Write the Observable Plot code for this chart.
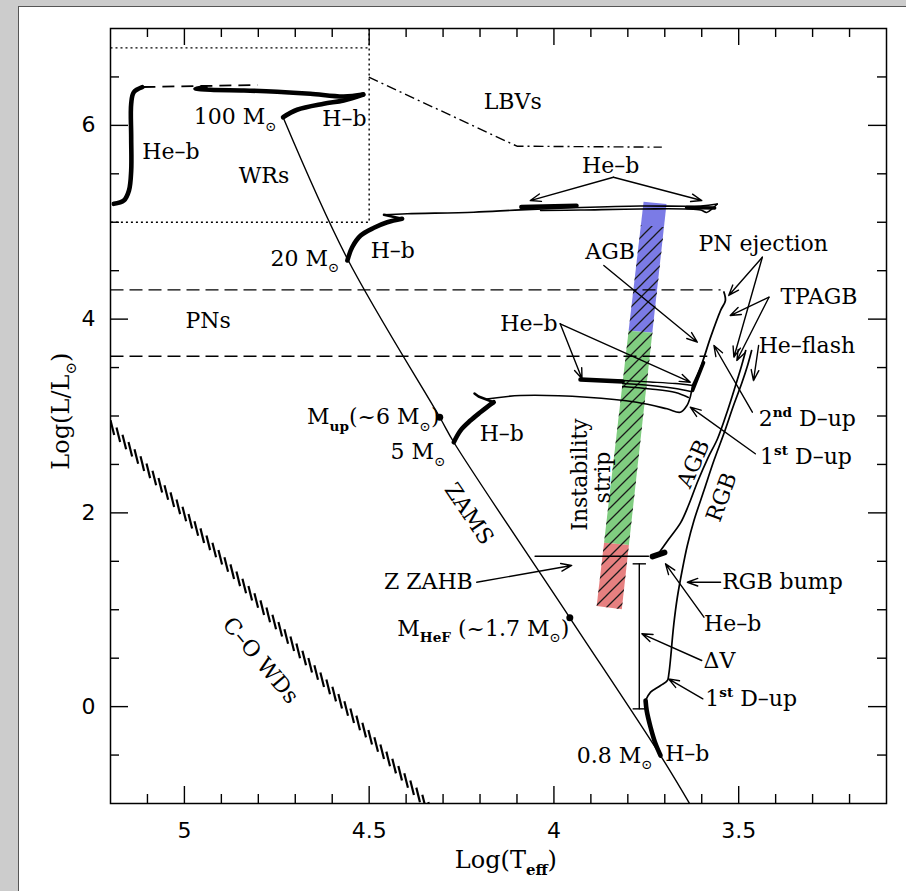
<!DOCTYPE html>
<html><head><meta charset="utf-8">
<script src="https://cdn.jsdelivr.net/npm/d3@7"></script>
<script src="https://cdn.jsdelivr.net/npm/@observablehq/plot@0.6"></script>
<style>
html,body{margin:0;padding:0;background:#cccccc;width:906px;height:891px;overflow:hidden;}
#page{position:absolute;left:18px;top:6px;width:887px;height:884px;background:#fff;border-left:1px solid #555;border-top:1px solid #555;}
</style></head><body><div id="page"></div><script>
// ---- axis ticks ----
const xMajor = [5, 4.5, 4, 3.5];
const xMinor = [5.1, 4.9, 4.8, 4.7, 4.6, 4.4, 4.3, 4.2, 4.1, 3.9, 3.8, 3.7, 3.6, 3.4, 3.3, 3.2];
const yMajor = [0, 2, 4, 6];
const yMinor = [-0.5, 0.5, 1, 1.5, 2.5, 3, 3.5, 4.5, 5, 5.5, 6.5];

// ---- curves: [logTeff, logL] ----
const zams = [[4.733,6.084],[4.559,4.623],[4.309,2.987],[4.271,2.729],[3.957,0.917],[3.7115,-0.505],[3.633,-1.0]];
const zamsDots = [[4.309,2.987],[3.957,0.917]];
const wr100HeB = [[5.114,6.394],[5.137,6.342],[5.144,6.223],[5.144,5.878],[5.144,5.534],[5.150,5.328],[5.164,5.224],[5.191,5.190]];
const m100Hb = [[4.733,6.084],[4.695,6.161],[4.623,6.223],[4.569,6.257],[4.516,6.319]];
const m100Back = [[4.516,6.319],[4.569,6.298],[4.659,6.326],[4.749,6.347],[4.839,6.360],[4.929,6.367],[4.970,6.381],[4.943,6.391]];
const m100Dash = [[5.111,6.396],[4.802,6.417]];
const m20Hb = [[4.559,4.605],[4.546,4.742],[4.523,4.863],[4.487,4.943],[4.451,5.000],[4.411,5.036]];
const m20Hook = [[4.411,5.036],[4.460,5.077]];
const m20Out = [[4.460,5.077],[4.397,5.087],[4.217,5.104],[4.090,5.128],[3.928,5.152],[3.766,5.168],[3.603,5.168],[3.558,5.188]];
const m20Ret = [[3.558,5.188],[3.571,5.142],[3.587,5.101],[3.603,5.126],[3.766,5.137],[3.928,5.126],[4.036,5.121]];
const m20HeB1 = [[4.088,5.157],[3.939,5.170]];
const m20HeB2 = [[3.641,5.152],[3.565,5.147]];
const m5Hb = [[4.271,2.729],[4.253,2.850],[4.226,2.953],[4.199,3.039],[4.176,3.108],[4.163,3.142]];
const m5Hook = [[4.163,3.142],[4.204,3.201],[4.215,3.232]];
const m5Cross = [[4.182,3.175],[4.091,3.211],[3.911,3.194],[3.776,3.142],[3.694,3.074],[3.658,3.039],[3.640,3.108],[3.630,3.211],[3.625,3.315]];
const m5Agb = [[3.625,3.315],[3.603,3.504],[3.576,3.813],[3.549,4.089],[3.536,4.192],[3.540,4.280]];
const m5AgbThick = [[3.625,3.263],[3.595,3.552]];
const m5Loop1 = [[3.928,3.382],[3.814,3.366],[3.739,3.351],[3.671,3.335],[3.625,3.315]];
const m5Loop2 = [[3.814,3.335],[3.739,3.315],[3.671,3.284],[3.630,3.253]];
const m5Loop3 = [[3.814,3.304],[3.739,3.279],[3.671,3.243],[3.636,3.191]];
const m5HeB = [[3.928,3.376],[3.814,3.356]];
const m08Hb = [[3.7115,-0.505],[3.725,-0.384],[3.7385,-0.213],[3.749,-0.040],[3.752,0.063]];
const rgb = [[3.752,0.063],[3.7385,0.149],[3.7115,0.218],[3.693,0.269],[3.689,0.339],[3.684,0.510],[3.680,0.682],[3.6755,0.855],[3.666,1.129],[3.653,1.405],[3.639,1.663],[3.621,1.921],[3.594,2.231],[3.567,2.540],[3.540,2.819],[3.514,3.108],[3.492,3.335],[3.476,3.521],[3.465,3.676]];
const agbLow = [[3.717,1.580],[3.690,1.725],[3.657,1.900],[3.636,2.076],[3.611,2.324],[3.584,2.561],[3.557,2.768],[3.530,3.057],[3.5085,3.315],[3.492,3.521],[3.481,3.676]];
const hbClump = [[3.733,1.550],[3.701,1.591]];
const wdLocus = [[5.195,2.88],[4.335,-1.06]];

// ---- regions & guides ----
const stripBlue  = [[3.756,5.207,3.694,5.183],[3.7965,3.875,3.7324,3.855]];
const stripGreen = [[3.7965,3.875,3.7324,3.855],[3.863,1.687,3.7958,1.663]];
const stripRed   = [[3.863,1.687,3.7958,1.663],[3.883,1.033,3.815,0.999]];
const stripHatch = [[3.7633,4.966,3.7002,4.942],[3.883,1.033,3.815,0.999]];
const pnUpper = [[5.2,4.302],[3.549,4.302]];
const pnLower = [[5.2,3.617],[3.585,3.617]];
const wrTop = [[5.2,6.80],[4.5,6.80]];
const wrSide = [[4.5,7.0],[4.5,5.0],[5.2,5.0]];
const lbv = [[4.501,6.497],[4.100,5.785],[3.708,5.775]];
const zahb = [[4.051,1.553],[3.744,1.553]];
const dV = [[3.769,1.474],[3.769,-0.023]];
const dVcaps = [[3.787,1.474,3.751,1.474],[3.787,-0.023,3.751,-0.023]];

// ---- arrows [x1,y1,x2,y2] ----
const arrows = [
 [3.839,5.465,4.064,5.224],[3.839,5.465,3.600,5.224],
 [3.865,4.553,3.612,3.762],
 [3.436,4.639,3.527,4.244],[3.436,4.639,3.513,3.607],
 [3.418,4.226,3.523,4.037],[3.418,4.226,3.505,3.573],
 [3.446,3.728,3.460,3.366],
 [3.983,3.952,3.924,3.384],[3.983,3.952,3.631,3.349],
 [3.463,3.039,3.567,3.728],
 [3.455,2.610,3.631,3.091],
 [4.209,1.284,3.952,1.457],
 [3.549,1.284,3.639,1.284],
 [3.594,0.923,3.698,1.474],
 [3.600,0.476,3.762,0.752],
 [3.597,0.081,3.690,0.287]
];

// ---- labels ----
const labels = [
 {s:"He–b", x:5.114, y:5.730},
 {s:"100 M_⊙", x:4.975, y:6.084},
 {s:"H–b", x:4.627, y:6.068},
 {s:"WRs", x:4.853, y:5.483, w:"bold"},
 {s:"LBVs", x:4.190, y:6.239},
 {s:"He–b", x:3.924, y:5.586},
 {s:"20 M_⊙", x:4.767, y:4.623},
 {s:"H–b", x:4.496, y:4.708},
 {s:"AGB", x:3.915, y:4.691},
 {s:"PN ejection", x:3.609, y:4.777},
 {s:"TPAGB", x:3.387, y:4.233},
 {s:"PNs", x:4.997, y:3.986},
 {s:"He–b", x:4.145, y:3.952},
 {s:"He–flash", x:3.446, y:3.728},
 {s:"2^{nd} D–up", x:3.446, y:2.971},
 {s:"1^{st} D–up", x:3.442, y:2.575},
 {s:"M_{up}(~6 M_⊙)", x:4.668, y:2.987},
 {s:"5 M_⊙", x:4.442, y:2.626},
 {s:"H–b", x:4.201, y:2.816},
 {s:"Z ZAHB", x:4.460, y:1.284},
 {s:"RGB bump", x:3.5445, y:1.284},
 {s:"He–b", x:3.594, y:0.855},
 {s:"M_{HeF} (~1.7 M_⊙)", x:4.424, y:0.803},
 {s:"ΔV", x:3.595, y:0.476},
 {s:"1^{st} D–up", x:3.5905, y:0.081},
 {s:"0.8 M_⊙", x:3.938, y:-0.505},
 {s:"H–b", x:3.699, y:-0.487}
];
const rotLabels = [
 {s:"Instability", x:3.929, y:2.396, r:-90},
 {s:"strip", x:3.868, y:2.365, r:-90},
 {s:"AGB", x:3.622, y:2.506, r:-66},
 {s:"RGB", x:3.546, y:2.162, r:-70},
 {s:"ZAMS", x:4.230, y:1.990, r:56},
 {s:"C–O WDs", x:4.794, y:0.476, r:50}
];

// ---- layout ----
const W = 887, H = 884, mL = 91, mT = 21, mR = 20, mB = 88;
const pxX = (W - mL - mR) / 2.1, pxY = (H - mT - mB) / 8;
const serif = "DejaVu Serif", sans = "DejaVu Sans";

// hatch strokes of the WD locus (pattern decoration along the locus)
const [w0, w1] = wdLocus;
const nH = 54, ang = 76 * Math.PI / 180, half = 7.5;
const wdHatch = d3.range(nH).map(i => {
  const f = i / (nH - 1), t = w0[0] + f * (w1[0] - w0[0]), l = w0[1] + f * (w1[1] - w0[1]);
  const hx = half * Math.cos(ang) / pxX, hy = half * Math.sin(ang) / pxY;
  return [t + hx, l + hy, t - hx, l - hy];
});

const X = d => d[0], Y = d => d[1];
const ln = (data, o = {}) => Plot.line(data, {x: X, y: Y, stroke: "black", strokeWidth: 1.4, strokeLinejoin: "round", strokeLinecap: "round", ...o});
const area = (data, fill) => Plot.area(data, {x1: d => d[0], y1: d => d[1], x2: d => d[2], y2: d => d[3], fill});
const TH = 4.6;

const svg = Plot.plot({
  width: W, height: H, marginLeft: mL, marginTop: mT, marginRight: mR, marginBottom: mB,
  x: {domain: [5.2, 3.1], axis: null},
  y: {domain: [-1, 7], axis: null},
  style: {background: "white", fontFamily: serif, overflow: "visible"},
  marks: [
    area(stripBlue, "#7b7be6"), area(stripGreen, "#80cd80"), area(stripRed, "#e68080"),
    area(stripHatch, "url(#hatch)"),
    Plot.link(wdHatch, {x1: d => d[0], y1: d => d[1], x2: d => d[2], y2: d => d[3], stroke: "black", strokeWidth: 2.2, clip: true}),
    ln(pnUpper, {strokeDasharray: "13,6", strokeLinecap: "butt"}),
    ln(pnLower, {strokeDasharray: "13,6", strokeLinecap: "butt"}),
    ln(wrTop, {strokeDasharray: "2,3", strokeLinecap: "butt"}),
    ln(wrSide, {strokeDasharray: "2,3", strokeLinecap: "butt"}),
    ln(lbv, {strokeDasharray: "10,4,2,4", strokeLinecap: "butt"}),
    ln(zams, {curve: "catmull-rom", clip: true}),
    Plot.dot(zamsDots, {x: X, y: Y, r: 3.5, fill: "black"}),
    ln(wr100HeB, {curve: "catmull-rom", strokeWidth: TH}),
    ln(m100Hb, {curve: "catmull-rom", strokeWidth: TH}),
    ln(m100Back, {curve: "catmull-rom", strokeWidth: TH}),
    ln(m100Dash, {strokeDasharray: "12,7", strokeWidth: 1.8, strokeLinecap: "butt"}),
    ln(m20Hb, {curve: "catmull-rom", strokeWidth: TH}),
    ln(m20Hook, {strokeWidth: 2.5}),
    ln(m20Out, {curve: "catmull-rom", strokeWidth: 1.6}),
    ln(m20Ret, {curve: "catmull-rom", strokeWidth: 1.6}),
    ln(m20HeB1, {strokeWidth: TH}),
    ln(m20HeB2, {strokeWidth: 3.5}),
    ln(m5Hb, {curve: "catmull-rom", strokeWidth: TH}),
    ln(m5Hook, {strokeWidth: 2.5}),
    ln(m5Cross, {curve: "catmull-rom", strokeWidth: 1.6}),
    ln(m5Agb, {curve: "catmull-rom", strokeWidth: 1.8}),
    ln(m5AgbThick, {strokeWidth: 3.5}),
    ln(m5Loop1, {curve: "catmull-rom"}),
    ln(m5Loop2, {curve: "catmull-rom"}),
    ln(m5Loop3, {curve: "catmull-rom"}),
    ln(m5HeB, {strokeWidth: TH}),
    ln(m08Hb, {curve: "catmull-rom", strokeWidth: TH}),
    ln(rgb, {curve: "catmull-rom", strokeWidth: 1.7}),
    ln(agbLow, {curve: "catmull-rom", strokeWidth: 1.7}),
    ln(hbClump, {strokeWidth: 6}),
    ln(zahb),
    ln(dV),
    Plot.link(dVcaps, {x1: d => d[0], y1: d => d[1], x2: d => d[2], y2: d => d[3], stroke: "black", strokeWidth: 1.4}),
    Plot.arrow(arrows, {x1: d => d[0], y1: d => d[1], x2: d => d[2], y2: d => d[3], stroke: "black", strokeWidth: 1.4, headLength: 12, headAngle: 40}),
    Plot.text(labels, {x: "x", y: "y", text: "s", textAnchor: "start", fontSize: 22, fontFamily: serif, fontWeight: d => d.w || "normal", fill: "black"}),
    ...rotLabels.map(d => Plot.text([d], {x: "x", y: "y", text: "s", rotate: d.r, fontSize: 22, fontFamily: serif, fill: "black"})),
    // ticks (inward, all four sides)
    Plot.ruleX(xMajor, {x: d => d, y1: -1, y2: -1 + 17 / pxY, strokeWidth: 1.4}),
    Plot.ruleX(xMinor, {x: d => d, y1: -1, y2: -1 + 9 / pxY, strokeWidth: 1.4}),
    Plot.ruleX(xMajor, {x: d => d, y1: 7, y2: 7 - 17 / pxY, strokeWidth: 1.4}),
    Plot.ruleX(xMinor, {x: d => d, y1: 7, y2: 7 - 9 / pxY, strokeWidth: 1.4}),
    Plot.ruleY(yMajor, {y: d => d, x1: 5.2, x2: 5.2 - 18 / pxX, strokeWidth: 1.4}),
    Plot.ruleY(yMinor, {y: d => d, x1: 5.2, x2: 5.2 - 9 / pxX, strokeWidth: 1.4}),
    Plot.ruleY(yMajor, {y: d => d, x1: 3.1, x2: 3.1 + 18 / pxX, strokeWidth: 1.4}),
    Plot.ruleY(yMinor, {y: d => d, x1: 3.1, x2: 3.1 + 9 / pxX, strokeWidth: 1.4}),
    Plot.text(xMajor, {x: d => d, y: -1, dy: 27, text: d => String(d), fontSize: 22, fontFamily: sans, fill: "black"}),
    Plot.text(yMajor, {x: 5.2, y: d => d, dx: -22, text: d => String(d), fontSize: 22, fontFamily: sans, fill: "black"}),
    Plot.text(["Log(T_{eff})"], {x: 4.13, y: -1, dy: 57, text: d => d, fontSize: 24, fontFamily: serif, fill: "black"}),
    Plot.text(["Log(L/L_⊙)"], {x: 5.2, y: 3.05, dx: -49, rotate: -90, text: d => d, fontSize: 24, fontFamily: serif, fill: "black"}),
    Plot.frame({stroke: "black", strokeWidth: 1.5})
  ]
});

// pattern for the hatched instability strip
const NS = "http://www.w3.org/2000/svg";
const defs = document.createElementNS(NS, "defs");
defs.innerHTML = '<pattern id="hatch" patternUnits="userSpaceOnUse" width="12" height="12"><path d="M-3,3L3,-3M0,12L12,0M9,15L15,9" stroke="#1a1a1a" stroke-width="1.3"/></pattern>';
svg.insertBefore(defs, svg.firstChild);

// sub/superscripts: _x or _{..} and ^{..}
function richify(root) {
  root.querySelectorAll("text").forEach(t => {
    const s = t.textContent;
    if (!/[_^]/.test(s)) return;
    const fs = parseFloat(t.closest("[font-size]")?.getAttribute("font-size")) || 22;
    while (t.firstChild) t.removeChild(t.firstChild);
    const re = /([_^])(\{[^}]*\}|.)/g;
    let last = 0, cur = 0, m;
    const add = (str, off, special) => {
      const ts = document.createElementNS(NS, "tspan");
      ts.textContent = str;
      const dy = off - cur;
      if (dy) ts.setAttribute("dy", dy.toFixed(2));
      if (special) { ts.setAttribute("font-size", (fs * 0.62).toFixed(1)); if (str !== "⊙") ts.setAttribute("font-weight", "bold"); }
      cur = off;
      t.appendChild(ts);
    };
    while ((m = re.exec(s))) {
      if (m.index > last) add(s.slice(last, m.index), 0, false);
      const c = m[2].startsWith("{") ? m[2].slice(1, -1) : m[2];
      add(c, m[1] === "_" ? 0.3 * fs : -0.42 * fs, true);
      last = re.lastIndex;
    }
    if (last < s.length) add(s.slice(last), 0, false);
  });
}
richify(svg);
document.getElementById("page").appendChild(svg);
</script></body></html>
